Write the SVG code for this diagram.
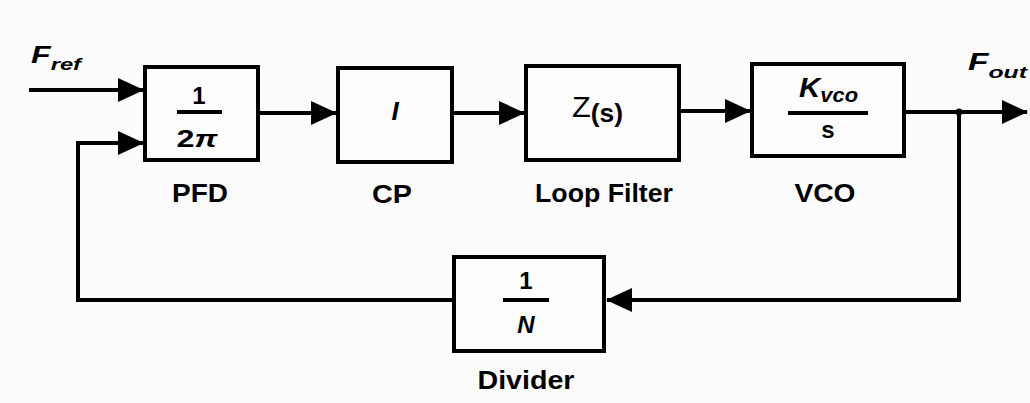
<svg xmlns="http://www.w3.org/2000/svg" width="1030" height="403" viewBox="0 0 1030 403">
<style>
.box{fill:#fcfdfc;stroke:#000;stroke-width:4}
.wire{fill:none;stroke:#000;stroke-width:4}
.frac{stroke:#000;stroke-width:4}
.lbl{font-family:"Liberation Sans",Arial,sans-serif;font-size:25px;font-weight:bold;text-anchor:middle;fill:#000}
.num{font-family:"Liberation Sans",Arial,sans-serif;font-size:24px;font-weight:bold;text-anchor:middle;fill:#000}
.it{font-family:"Liberation Sans",Arial,sans-serif;font-style:italic;font-weight:bold;fill:#000}
</style>
<defs>
<marker id="ah" markerUnits="userSpaceOnUse" markerWidth="26" markerHeight="24" refX="25" refY="12" orient="auto">
<path d="M0,0 L26,12 L0,24 Z" fill="#000"/>
</marker>
</defs>
<rect width="1030" height="403" fill="#fbfcfb"/>
<g id="connectors">
<path class="wire" d="M29,90 H143" marker-end="url(#ah)"/>
<path class="wire" d="M452,300 H78 V143 H143" marker-end="url(#ah)"/>
<path class="wire" d="M260,113 H336" marker-end="url(#ah)"/>
<path class="wire" d="M454,113 H524" marker-end="url(#ah)"/>
<path class="wire" d="M681,111 H750" marker-end="url(#ah)"/>
<path class="wire" d="M906,112 H1027" marker-end="url(#ah)"/>
<path class="wire" d="M959,112 V300 H607" marker-end="url(#ah)"/>
<circle cx="959" cy="112" r="3.5" fill="#000"/>
</g>
<g id="fref">
<text class="it" x="31" y="63" font-size="23" textLength="50" lengthAdjust="spacingAndGlyphs">F<tspan font-size="17" dy="7">ref</tspan></text>
</g>
<g id="fout">
<text class="it" x="968" y="70" font-size="23" textLength="59" lengthAdjust="spacingAndGlyphs">F<tspan font-size="17" dy="8">out</tspan></text>
</g>
<g id="pfd">
<rect class="box" x="145" y="67" width="113" height="93"/>
<text class="num" x="199" y="104" font-weight="normal" style="font-weight:600">1</text>
<line class="frac" x1="177" y1="112" x2="222" y2="112"/>
<text class="num" x="197" y="147" textLength="41" lengthAdjust="spacingAndGlyphs">2<tspan font-style="italic">π</tspan></text>
<text class="lbl" x="200" y="202" textLength="56" lengthAdjust="spacingAndGlyphs">PFD</text>
</g>
<g id="cp">
<rect class="box" x="338" y="68" width="114" height="94"/>
<text x="395" y="120" font-family="Liberation Sans,Arial,sans-serif" font-style="italic" font-size="26" font-weight="bold" text-anchor="middle">I</text>
<text class="lbl" x="392" y="203" textLength="40" lengthAdjust="spacingAndGlyphs">CP</text>
</g>
<g id="loopfilter">
<rect class="box" x="526" y="66" width="153" height="94"/>
<text x="572" y="117" font-family="Liberation Sans,Arial,sans-serif" font-size="29" textLength="51" lengthAdjust="spacingAndGlyphs">Z<tspan font-size="25" font-weight="bold" dy="5">(s)</tspan></text>
<text class="lbl" x="604" y="202" textLength="138" lengthAdjust="spacingAndGlyphs">Loop Filter</text>
</g>
<g id="vco">
<rect class="box" x="752" y="64" width="152" height="92"/>
<text class="it" x="799" y="97" font-size="27" font-weight="normal" textLength="59" lengthAdjust="spacingAndGlyphs">K<tspan font-size="20" font-weight="bold" dy="5">vco</tspan></text>
<line class="frac" x1="788" y1="113" x2="868" y2="113"/>
<text class="num" x="828" y="138" font-size="27">s</text>
<text class="lbl" x="825" y="202" textLength="61" lengthAdjust="spacingAndGlyphs">VCO</text>
</g>
<g id="divider">
<rect class="box" x="454" y="257" width="150" height="94"/>
<text class="num" x="526" y="289">1</text>
<line class="frac" x1="503" y1="300" x2="549" y2="300"/>
<text class="it" x="526" y="333" font-size="24" text-anchor="middle">N</text>
<text class="lbl" x="526" y="389" textLength="97" lengthAdjust="spacingAndGlyphs">Divider</text>
</g>
</svg>
